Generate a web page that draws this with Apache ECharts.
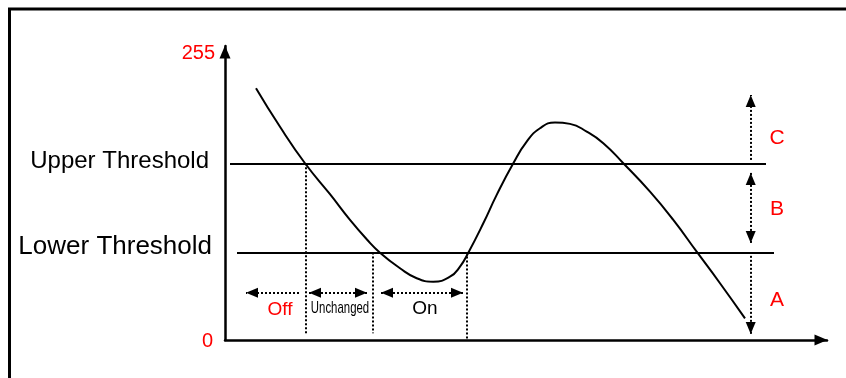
<!DOCTYPE html>
<html lang="en">

<head>
    <meta charset="UTF-8">
    <title>Threshold hysteresis</title>
    <style>
        html, body { margin: 0; padding: 0; background: #fff; }
        #main { width: 846px; height: 378px; }
    </style>
</head>

<body>
    <div id="main"></div>
    <script src="https://cdn.jsdelivr.net/npm/echarts@6/dist/echarts.min.js"></script>
    <script>
        // signal curve, x in horizontal units, y in 0..255
        var curveX = [31, 55, 80, 105, 125, 141.7, 155, 175, 191.7, 208.3, 225, 235, 243.3, 258.3, 271.7, 288.3,
            301.7, 315, 330, 345, 361.7, 378.3, 398.3, 425, 448.3, 471.7, 495, 520];
        var curveY = [224.4, 190, 157.5, 129.9, 107, 89.8, 77.8, 63.9, 55, 52, 56.4, 65.4, 77.8, 104, 129.3, 157.5,
            176.8, 188.7, 193.8, 192.6, 185.7, 175.4, 157.5, 132.2, 107, 78.7, 50.6, 19.3];

        var upperThreshold = 157.5;
        var lowerThreshold = 78;
        var upperSpan = [5, 541];
        var lowerSpan = [12, 549];

        var yTickValues = [0, lowerThreshold, upperThreshold, 255];
        var yTickLabels = ['0', 'Lower Threshold', 'Upper Threshold', '255'];

        // dotted guides where the curve crosses a threshold
        var guideX = [81, 148, 242];
        var guideTop = [upperThreshold, lowerThreshold, lowerThreshold];
        var guideBottom = [6, 6, 1];

        // output state ranges
        var stateNames = ['Off', 'Unchanged', 'On'];
        var stateFrom = [74, 84, 156];
        var stateTo = [21, 142, 238];
        var stateArrowY = 42.2;
        var stateLabelX = [55, 115, 200];
        var stateLabelY = [26.7, 28.5, 27.6];

        // zones A B C on the right
        var zoneNames = ['C', 'B', 'A'];
        var zoneFrom = [160.5, 148.9, 75];
        var zoneTo = [218.4, 86.5, 5.3];
        var zoneX = 525.7;
        var zoneLabelX = 552;
        var zoneLabelY = [180.1, 116.8, 35.7];

        var chart = echarts.init(document.getElementById('main'));

        var curveData = curveX.map(function (x, i) { return [x, curveY[i]]; });

        var headSize = [10, 12];
        var headOffset = [0, 6];

        function end(x, y, sym) {
            return { coord: [x, y], symbol: sym, symbolSize: headSize, symbolOffset: headOffset };
        }
        function seg(x1, y1, x2, y2, s1, s2) {
            return [end(x1, y1, s1), end(x2, y2, s2)];
        }

        var solidLines = [
            seg(upperSpan[0], upperThreshold, upperSpan[1], upperThreshold, 'none', 'none'),
            seg(lowerSpan[0], lowerThreshold, lowerSpan[1], lowerThreshold, 'none', 'none')
        ];

        var dottedLines = [];
        guideX.forEach(function (x, i) {
            dottedLines.push(seg(x, guideTop[i], x, guideBottom[i], 'none', 'none'));
        });
        stateNames.forEach(function (n, i) {
            dottedLines.push(seg(stateFrom[i], stateArrowY, stateTo[i], stateArrowY,
                n === 'Off' ? 'none' : 'triangle', 'triangle'));
        });
        zoneNames.forEach(function (n, i) {
            dottedLines.push(seg(zoneX, zoneFrom[i], zoneX, zoneTo[i],
                n === 'B' ? 'triangle' : 'none', 'triangle'));
        });

        var labelStyle = {
            Off: { color: '#ff0000', fontSize: 19 },
            On: { color: '#000', fontSize: 19 },
            A: { color: '#ff0000', fontSize: 21 },
            B: { color: '#ff0000', fontSize: 21 },
            C: { color: '#ff0000', fontSize: 21 }
        };

        var textData = [];
        stateNames.forEach(function (n, i) {
            if (n === 'Unchanged') return; // drawn narrow below
            textData.push({ name: n, value: [stateLabelX[i], stateLabelY[i]], label: labelStyle[n] });
        });
        zoneNames.forEach(function (n, i) {
            textData.push({ name: n, value: [zoneLabelX, zoneLabelY[i]], label: labelStyle[n] });
        });

        var axisLineStyle = { color: '#000', width: 2.5 };
        var frame = {
            type: 'rect',
            shape: { x: 9.5, y: 9, width: 900, height: 500 },
            style: { fill: 'none', stroke: '#000', lineWidth: 3 },
            silent: true
        };

        chart.setOption({
            animation: false,
            textStyle: { fontFamily: "'Liberation Sans', Arial, sans-serif" },
            graphic: [frame],
            grid: { left: 225, right: 19, top: 46, bottom: 38 },
            xAxis: {
                type: 'value', min: 0, max: 602,
                axisLine: { show: true, lineStyle: axisLineStyle, symbol: ['none', 'triangle'], symbolSize: [11, 13], symbolOffset: [0, -6] },
                axisTick: { show: false }, axisLabel: { show: false }, splitLine: { show: false }
            },
            yAxis: {
                type: 'value', min: 0, max: 262,
                axisLine: { show: true, lineStyle: axisLineStyle, symbol: ['none', 'triangle'], symbolSize: [11, 13], symbolOffset: [0, -6] },
                axisTick: { show: false }, splitLine: { show: false },
                axisLabel: {
                    show: true,
                    customValues: yTickValues,
                    margin: 10,
                    formatter: function (v) {
                        var i = yTickValues.indexOf(v);
                        var key = ['zero', 'low', 'up', 'top'][i];
                        return '{' + key + '|' + yTickLabels[i] + '}';
                    },
                    rich: {
                        zero: { color: '#ff0000', fontSize: 20, padding: [3, 2, 0, 0] },
                        low: { color: '#000', fontSize: 26, padding: [0, 3, 12, 0] },
                        up: { color: '#000', fontSize: 24, padding: [0, 6, 3, 0] },
                        top: { color: '#ff0000', fontSize: 20 }
                    }
                }
            },
            series: [{
                type: 'line',
                data: curveData,
                smooth: 0.5,
                symbol: 'none',
                lineStyle: { color: '#000', width: 2 },
                markLine: {
                    silent: true,
                    symbol: 'none',
                    label: { show: false },
                    lineStyle: { color: '#000', width: 2, type: 'solid' },
                    data: solidLines
                }
            }, {
                type: 'line',
                data: [],
                markLine: {
                    silent: true,
                    symbolSize: headSize,
                    symbolOffset: headOffset,
                    label: { show: false },
                    lineStyle: { color: '#000', width: 2, type: [2, 2] },
                    data: dottedLines
                }
            }, {
                type: 'scatter',
                data: textData,
                symbolSize: 0,
                silent: true,
                itemStyle: { opacity: 1 },
                label: {
                    show: true,
                    position: 'inside',
                    formatter: '{b}'
                }
            }]
        });

        // "Unchanged" is squeezed horizontally, placed through the axis scales
        var ui = stateNames.indexOf('Unchanged');
        var pos = chart.convertToPixel({ gridIndex: 0 }, [stateLabelX[ui], stateLabelY[ui]]);
        chart.setOption({
            graphic: [frame, {
                type: 'text',
                x: pos[0], y: pos[1],
                scaleX: 0.67,
                silent: true,
                style: {
                    text: stateNames[ui],
                    x: 0, y: 0,
                    align: 'center', verticalAlign: 'middle',
                    fill: '#000',
                    font: "17px 'Liberation Sans', Arial, sans-serif"
                }
            }]
        });
    </script>
</body>

</html>
